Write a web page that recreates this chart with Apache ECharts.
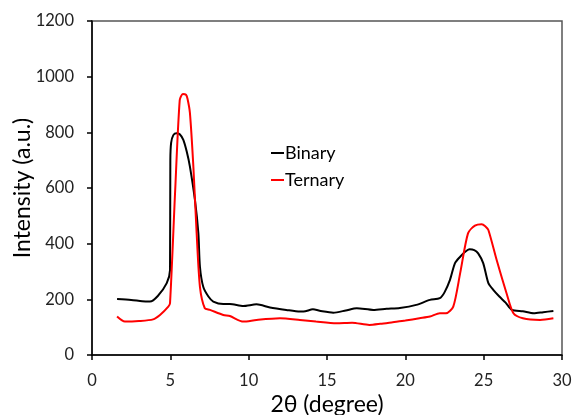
<!DOCTYPE html>
<html>
<head>
<meta charset="utf-8">
<script src="https://cdn.jsdelivr.net/npm/echarts@6/dist/echarts.min.js"></script>
<style>html,body{margin:0;padding:0;background:#fff}#c{width:575px;height:415px}</style>
</head>
<body>
<div id="c"></div>
<script>
const binaryX = [1.6, 2.5, 3.2, 3.7, 4.2, 4.77, 4.98, 5.0, 5.05, 5.19, 5.4, 5.6, 5.83, 6.05, 6.25, 6.57, 6.79, 6.89, 7.1, 7.43, 7.74, 8.38, 8.8, 9.66, 10.5, 11.36, 12.4, 13.27, 13.5, 14.1, 14.6, 15.4, 16.2, 16.9, 17.95, 18.8, 19.65, 20.7, 21.57, 22.2, 22.5, 22.85, 23.17, 23.5, 23.8, 24.1, 24.4, 24.65, 24.97, 25.3, 25.6, 26.0, 26.4, 26.8, 27.5, 28.2, 28.8, 29.45];
const binaryY = [201, 198, 193, 192, 212, 258, 305, 700, 762, 790, 797, 793, 773, 730, 677, 557, 437, 317, 245, 210, 192, 183, 183, 176, 182, 171, 162, 156, 156, 164, 158, 152, 160, 168, 162, 166, 169, 180, 198, 204, 225, 270, 330, 353, 370, 380, 377, 365, 330, 258, 235, 210, 188, 162, 157, 150, 154, 158];
const ternaryX = [1.6, 2.1, 3.0, 3.9, 4.34, 4.87, 4.98, 5.3, 5.6, 5.8, 6.0, 6.1, 6.25, 6.47, 6.68, 6.89, 7.2, 7.53, 8.38, 8.8, 9.66, 10.5, 12.0, 13.27, 14.3, 15.6, 16.6, 17.7, 18.4, 19.2, 20.0, 20.9, 21.57, 22.2, 22.6, 23.06, 23.5, 24.0, 24.44, 24.87, 25.1, 25.3, 25.83, 26.46, 26.9, 27.5, 28.6, 29.45];
const ternaryY = [138, 120, 122, 128, 144, 174, 186, 580, 916, 938, 935, 920, 870, 677, 437, 245, 168, 162, 144, 140, 120, 126, 132, 126, 120, 114, 116, 108, 112, 118, 124, 132, 138, 150, 150, 174, 294, 437, 465, 470, 463, 449, 341, 222, 150, 132, 126, 132];
const xTicks = [0, 5, 10, 15, 20, 25, 30];
const yTicks = [0, 200, 400, 600, 800, 1000, 1200];

const font = 'Lato, "Open Sans", sans-serif';
const chart = echarts.init(document.getElementById('c'), null, {renderer: 'canvas'});
chart.setOption({
  animation: false,
  backgroundColor: '#fff',
  grid: {left: 92, right: 13, top: 21, bottom: 60, show: true, borderColor: '#555', borderWidth: 1.5,
         backgroundColor: 'transparent', outerBoundsMode: 'none', containLabel: false},
  legend: {
    orient: 'vertical', left: 266, top: 139, itemGap: 9, itemWidth: 13, itemHeight: 2, icon: 'rect',
    textStyle: {fontFamily: font, fontSize: 18, color: '#000', padding: [0, 0, 0, -4]},
    data: ['Binary', 'Ternary']
  },
  xAxis: {
    type: 'value', min: xTicks[0], max: xTicks[xTicks.length - 1], interval: 5,
    name: '2θ (degree)', nameLocation: 'middle', nameGap: 38, nameMoveOverlap: false,
    nameTextStyle: {fontFamily: font, fontSize: 23, color: '#000'},
    axisLine: {onZero: false, lineStyle: {color: '#000', width: 1.5}},
    axisTick: {show: true, length: 5, lineStyle: {color: '#000', width: 1.5}},
    axisLabel: {fontFamily: font, fontSize: 16.5, color: '#222', margin: 17},
    splitLine: {show: false}
  },
  yAxis: {
    type: 'value', min: yTicks[0], max: yTicks[yTicks.length - 1], interval: 200,
    name: 'Intensity (a.u.)', nameLocation: 'middle', nameGap: 58, nameMoveOverlap: false,
    nameTextStyle: {fontFamily: font, fontSize: 23, color: '#000'},
    axisLine: {show: true, onZero: false, lineStyle: {color: '#000', width: 1.5}},
    axisTick: {show: true, length: 5, lineStyle: {color: '#000', width: 1.5}},
    axisLabel: {fontFamily: font, fontSize: 16.5, color: '#222', margin: 18, formatter: v => String(v)},
    splitLine: {show: false}
  },
  series: [
    {name: 'Binary', type: 'line', smooth: 0.25, showSymbol: false, color: '#000',
     lineStyle: {color: '#000', width: 2}, data: binaryX.map((x, i) => [x, binaryY[i]])},
    {name: 'Ternary', type: 'line', smooth: 0.25, showSymbol: false, color: '#ff0000',
     lineStyle: {color: '#ff0000', width: 2}, data: ternaryX.map((x, i) => [x, ternaryY[i]])}
  ]
});
</script>
</body>
</html>
